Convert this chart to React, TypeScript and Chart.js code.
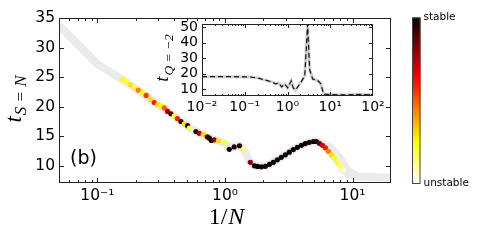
import React, { useEffect, useRef } from 'react';
import { Chart, registerables } from 'chart.js';

Chart.register(...registerables);

// ---------- main panel data ----------
const pointN: number[] = [
  0.157, 0.168, 0.181, 0.195, 0.209, 0.225, 0.241, 0.263, 0.279, 0.296,
  0.315, 0.334, 0.355, 0.377, 0.4, 0.423, 0.452, 0.48, 0.509, 0.525,
  0.592, 0.629, 0.676, 0.726, 0.753, 0.781, 0.824, 0.886, 0.987, 1.08,
  1.18, 1.3, 1.39, 1.58, 1.7, 1.8,
  1.93, 2.07, 2.23, 2.39, 2.57, 2.76, 2.97, 3.19, 3.43, 3.69,
  3.97, 4.26, 4.58, 4.93, 5.2, 5.49, 5.8, 6.12, 6.46, 6.82,
  7.2, 7.6, 8.02, 8.47,
];
const pointT: number[] = [
  24.6, 24.2, 23.7, 23.2, 22.8, 22.4, 21.9, 21.2, 20.7, 20.3,
  20.1, 19.8, 19.2, 18.8, 18.4, 18.0, 17.5, 17.1, 16.8, 16.4,
  15.8, 15.5, 15.3, 14.9, 14.7, 14.3, 14.4, 14.2, 13.9, 12.8,
  13.2, 13.4, 12.8, 10.6, 10.0, 9.9,
  9.83, 9.92, 10.25, 10.59, 11.02, 11.44, 11.86, 12.32, 12.75, 13.14,
  13.47, 13.76, 13.98, 14.12, 14.12, 13.81, 13.47, 13.05, 12.46, 11.86,
  11.27, 10.51, 9.83, 9.32,
];
// 1 = stable (black), 0 = unstable (white)
const pointStability: number[] = [
  0.25, 0.2, 0.3, 0.2, 0.45, 0.25, 0.55, 0.3, 0.6, 0.3,
  0.25, 0.5, 0.75, 0.9, 0.2, 0.6, 0.95, 0.3, 0.98, 0.2,
  0.95, 0.75, 0.3, 0.9, 1, 1, 0.8, 0.3, 0.2, 1,
  0.95, 0.98, 0.15, 0.8, 1, 1,
  1, 1, 1, 1, 1, 1, 1, 1, 1, 1,
  1, 1, 1, 1, 1, 0.85, 0.7, 0.6, 0.45, 0.3,
  0.25, 0.2, 0.15, 0.05,
];
const bandN: number[] = [0.05, 0.1, 0.157, 0.263, 0.4, 0.53, 0.75, 0.99, 1.08, 1.3, 1.4, 1.58, 1.8, 2.2, 2.8, 3.4, 4.3, 5.0, 5.5, 6.1, 6.8, 7.6, 8.5, 9.3, 11, 14, 20];
const bandT: number[] = [33.7, 27.2, 24.6, 21.2, 18.4, 16.4, 14.7, 13.9, 13.1, 13.4, 12.8, 10.6, 9.85, 10.2, 11.5, 12.8, 13.8, 14.2, 13.9, 13.3, 12.1, 10.8, 9.3, 8.6, 8.2, 8.1, 8.0];
const band2N: number[] = [5.3, 6.4, 7.4, 8.3, 9.2, 10.5];
const band2T: number[] = [14.0, 13.3, 12.0, 10.6, 9.0, 8.4];

const mainXMajor: number[] = [0.1, 1, 10];
const mainXMinor: number[] = [0.05, 0.06, 0.07, 0.08, 0.09, 0.2, 0.3, 0.4, 0.5, 0.6, 0.7, 0.8, 0.9, 2, 3, 4, 5, 6, 7, 8, 9, 20];
const mainYTicks: number[] = [10, 15, 20, 25, 30, 35];

// ---------- inset data ----------
const insetX: number[] = [0.01, 0.0445, 0.13, 0.2, 0.29, 0.43, 0.53, 0.62, 0.73, 0.86, 1.01, 1.22, 1.36, 1.55, 2.09, 2.53, 2.8, 2.95, 3.3, 3.88, 5.08, 5.98, 7.0, 9.7, 22, 49, 100];
const insetY: number[] = [18, 18, 17.8, 17.2, 15.9, 14.6, 13.3, 13.9, 11.4, 13.3, 10.7, 15.3, 10.7, 9.4, 14.6, 18.5, 40, 52, 22.4, 16.5, 15.5, 13.5, 6.8, 6.4, 6.2, 6.5, 6.2];
const insetXMajor: number[] = [0.01, 0.1, 1, 10, 100];
const insetXMinor: number[] = [
  0.02, 0.03, 0.04, 0.05, 0.06, 0.07, 0.08, 0.09,
  0.2, 0.3, 0.4, 0.5, 0.6, 0.7, 0.8, 0.9,
  2, 3, 4, 5, 6, 7, 8, 9,
  20, 30, 40, 50, 60, 70, 80, 90,
];
const insetYTicks: number[] = [10, 20, 30, 40, 50];

// ---------- helpers ----------
const W = 485;
const H = 243;
const clamp = (v: number) => Math.max(0, Math.min(1, v));
function hotReversed(s: number): string {
  const t = 1 - s;
  const r = 0.0416 + (1 - 0.0416) * clamp(t / 0.365);
  const g = clamp((t - 0.365) / 0.381);
  const b = clamp((t - 0.746) / 0.254);
  return `rgb(${Math.round(r * 255)},${Math.round(g * 255)},${Math.round(b * 255)})`;
}
const SUP: Record<string, string> = { '-': '⁻', '0': '⁰', '1': '¹', '2': '²', '3': '³' };
function decadeLabel(v: number): string {
  const e = Math.log10(v);
  const r = Math.round(e);
  if (Math.abs(e - r) > 1e-6) return '';
  return '10' + String(r).split('').map((c) => SUP[c] ?? c).join('');
}

function drawFrameAndTicks(chart: any, xMaj: number[], xMin: number[], yMaj: number[], majLen: number, minLen: number) {
  const { ctx, chartArea } = chart;
  const { left, right, top, bottom } = chartArea;
  const xs = chart.scales.x;
  const ys = chart.scales.y;
  ctx.save();
  ctx.strokeStyle = '#222';
  ctx.lineWidth = 1;
  ctx.beginPath();
  const xt = (vals: number[], len: number) => {
    for (const v of vals) {
      const p = Math.round(xs.getPixelForValue(v)) + 0.5;
      if (p < left || p > right) continue;
      ctx.moveTo(p, bottom);
      ctx.lineTo(p, bottom - len);
      ctx.moveTo(p, top);
      ctx.lineTo(p, top + len);
    }
  };
  xt(xMaj, majLen);
  xt(xMin, minLen);
  for (const v of yMaj) {
    const p = Math.round(ys.getPixelForValue(v)) + 0.5;
    ctx.moveTo(left, p);
    ctx.lineTo(left + majLen, p);
    ctx.moveTo(right, p);
    ctx.lineTo(right - majLen, p);
  }
  ctx.stroke();
  ctx.strokeRect(Math.round(left) + 0.5, Math.round(top) + 0.5, Math.round(right - left) - 1, Math.round(bottom - top) - 1);
  ctx.restore();
}

function drawSubLabel(ctx: CanvasRenderingContext2D, x: number, y: number, main: string, mainFont: string, sub: string, subFont: string, subDrop: number) {
  // rotated label, x = baseline (page), y = centre (page)
  ctx.save();
  ctx.translate(x, y);
  ctx.rotate(-Math.PI / 2);
  ctx.fillStyle = '#000';
  ctx.textBaseline = 'alphabetic';
  ctx.textAlign = 'left';
  ctx.font = mainFont;
  const w1 = ctx.measureText(main).width;
  ctx.font = subFont;
  const w2 = ctx.measureText(sub).width;
  const total = w1 + 1 + w2;
  const u0 = -total / 2;
  ctx.font = mainFont;
  ctx.fillText(main, u0, 0);
  ctx.font = subFont;
  ctx.fillText(sub, u0 + w1 + 1, subDrop);
  ctx.restore();
}

const tickFont = { family: 'DejaVu Sans', size: 15.5 };
const insetTickFont = { family: 'DejaVu Sans', size: 14 };

export default function App() {
  const mainRef = useRef<HTMLCanvasElement | null>(null);
  const insetRef = useRef<HTMLCanvasElement | null>(null);

  useEffect(() => {
    if (!mainRef.current || !insetRef.current) return;

    const mainDecor = {
      id: 'mainDecor',
      afterDraw(chart: any) {
        const ctx = chart.ctx as CanvasRenderingContext2D;
        drawFrameAndTicks(chart, mainXMajor, mainXMinor, mainYTicks, 5, 3);
        ctx.save();
        ctx.fillStyle = '#000';
        // panel tag
        ctx.font = '19px "DejaVu Sans"';
        ctx.textAlign = 'left';
        ctx.textBaseline = 'middle';
        ctx.fillText('(b)', 70, 159);
        // x title
        ctx.textBaseline = 'alphabetic';
        ctx.font = '24px "Liberation Serif"';
        const a = '1/';
        const wa = ctx.measureText(a).width;
        ctx.font = 'italic 24px "Liberation Serif"';
        const wb = ctx.measureText('N').width;
        const x0 = 226 - (wa + wb) / 2;
        ctx.font = '24px "Liberation Serif"';
        ctx.fillText(a, x0, 224);
        ctx.font = 'italic 24px "Liberation Serif"';
        ctx.fillText('N', x0 + wa + 1, 224);
        ctx.restore();
        // y title
        drawSubLabel(ctx, 21, 99, 't', 'italic 23px "Liberation Serif"', 'S = N', 'italic 17px "Liberation Serif"', 4.5);
        // colour bar
        const cbL = 412, cbR = 420.5, cbT = 17.5, cbB = 184;
        const g = ctx.createLinearGradient(0, cbT, 0, cbB);
        for (let i = 0; i <= 20; i++) {
          const f = i / 20;
          g.addColorStop(f, hotReversed(1 - f));
        }
        ctx.save();
        ctx.fillStyle = g;
        ctx.fillRect(cbL, cbT, cbR - cbL, cbB - cbT);
        ctx.strokeStyle = '#444';
        ctx.lineWidth = 1;
        ctx.strokeRect(cbL + 0.5, cbT + 0.5, cbR - cbL - 1, cbB - cbT - 1);
        ctx.fillStyle = '#000';
        ctx.font = '10.5px "DejaVu Sans"';
        ctx.textAlign = 'left';
        ctx.textBaseline = 'middle';
        ctx.fillText('stable', 423.5, 17);
        ctx.fillText('unstable', 423.5, 183);
        ctx.restore();
      },
    };

    const mainChart = new Chart(mainRef.current, {
      type: 'line',
      data: {
        datasets: [
          {
            label: 'states',
            data: pointN.map((n, i) => ({ x: n, y: pointT[i] })),
            showLine: false,
            pointRadius: 2.6,
            pointBorderWidth: 0,
            pointBackgroundColor: pointStability.map(hotReversed),
            clip: 0,
          } as any,
          {
            label: 'band2',
            data: band2N.map((n, i) => ({ x: n, y: band2T[i] })),
            borderColor: '#ebebeb',
            borderWidth: 9,
            pointRadius: 0,
            fill: false,
            borderJoinStyle: 'round',
            clip: 0,
          } as any,
          {
            label: 'band',
            data: bandN.map((n, i) => ({ x: n, y: bandT[i] })),
            borderColor: '#ebebeb',
            borderWidth: 8,
            pointRadius: 0,
            fill: false,
            borderJoinStyle: 'round',
            clip: 0,
          } as any,
        ],
      },
      options: {
        responsive: false,
        animation: false,
        devicePixelRatio: 1,
        layout: { padding: { left: 0, top: 18, right: W - 391, bottom: 0 } },
        plugins: { legend: { display: false }, tooltip: { enabled: false } },
        scales: {
          x: {
            type: 'logarithmic',
            min: 0.05,
            max: 20,
            grid: { display: false, drawTicks: false },
            border: { display: false },
            ticks: {
              autoSkip: false,
              maxRotation: 0,
              minRotation: 0,
              color: '#000',
              font: tickFont,
              padding: 4,
              callback: (v: any) => decadeLabel(Number(v)),
            },
            afterBuildTicks: (s: any) => {
              s.ticks = mainXMajor.map((v) => ({ value: v }));
            },
            afterFit: (s: any) => {
              s.height = H - 183;
            },
          },
          y: {
            type: 'linear',
            min: 7.1,
            max: 35,
            grid: { display: false, drawTicks: false },
            border: { display: false },
            ticks: { color: '#000', font: tickFont, padding: 4, autoSkip: false },
            afterBuildTicks: (s: any) => {
              s.ticks = mainYTicks.map((v) => ({ value: v }));
            },
            afterFit: (s: any) => {
              s.width = 59;
            },
          },
        },
      } as any,
      plugins: [mainDecor],
    });

    const insetDecor = {
      id: 'insetDecor',
      beforeDraw(chart: any) {
        const { ctx, chartArea } = chart;
        ctx.save();
        ctx.fillStyle = '#fff';
        ctx.fillRect(chartArea.left, chartArea.top, chartArea.right - chartArea.left, chartArea.bottom - chartArea.top);
        ctx.restore();
      },
      afterDraw(chart: any) {
        drawFrameAndTicks(chart, insetXMajor, insetXMinor, insetYTicks, 4, 2);
        drawSubLabel(chart.ctx, 168, 58, 't', 'italic 19px "Liberation Serif"', 'Q = −2', 'italic 13.5px "Liberation Serif"', 4.5);
      },
    };

    const insetChart = new Chart(insetRef.current, {
      type: 'line',
      data: {
        datasets: [
          {
            label: 'dashed',
            data: insetX.map((x, i) => ({ x, y: insetY[i] })),
            borderColor: '#111',
            borderWidth: 1.2,
            borderDash: [5, 3],
            pointRadius: 0,
            fill: false,
            clip: 0,
          } as any,
          {
            label: 'grey',
            data: insetX.map((x, i) => ({ x, y: insetY[i] })),
            borderColor: '#cfcfcf',
            borderWidth: 3,
            pointRadius: 0,
            fill: false,
            clip: 0,
          } as any,
        ],
      },
      options: {
        responsive: false,
        animation: false,
        devicePixelRatio: 1,
        layout: { padding: { left: 0, top: 24, right: W - 373, bottom: 0 } },
        plugins: { legend: { display: false }, tooltip: { enabled: false } },
        scales: {
          x: {
            type: 'logarithmic',
            min: 0.01,
            max: 100,
            grid: { display: false, drawTicks: false },
            border: { display: false },
            ticks: {
              autoSkip: false,
              maxRotation: 0,
              minRotation: 0,
              color: '#000',
              font: insetTickFont,
              padding: 3,
              callback: (v: any) => decadeLabel(Number(v)),
            },
            afterBuildTicks: (s: any) => {
              s.ticks = insetXMajor.map((v) => ({ value: v }));
            },
            afterFit: (s: any) => {
              s.height = H - 96;
            },
          },
          y: {
            type: 'linear',
            min: 5.5,
            max: 52,
            grid: { display: false, drawTicks: false },
            border: { display: false },
            ticks: { color: '#000', font: insetTickFont, padding: 4, autoSkip: false },
            afterBuildTicks: (s: any) => {
              s.ticks = insetYTicks.map((v) => ({ value: v }));
            },
            afterFit: (s: any) => {
              s.width = 202;
            },
          },
        },
      } as any,
      plugins: [insetDecor],
    });

    return () => {
      mainChart.destroy();
      insetChart.destroy();
    };
  }, []);

  return (
    <div style={{ position: 'fixed', left: 0, top: 0, width: W, height: H, background: '#fff' }}>
      <canvas ref={mainRef} width={W} height={H} style={{ position: 'absolute', left: 0, top: 0, width: W, height: H }} />
      <canvas ref={insetRef} width={W} height={H} style={{ position: 'absolute', left: 0, top: 0, width: W, height: H, pointerEvents: 'none' }} />
    </div>
  );
}
